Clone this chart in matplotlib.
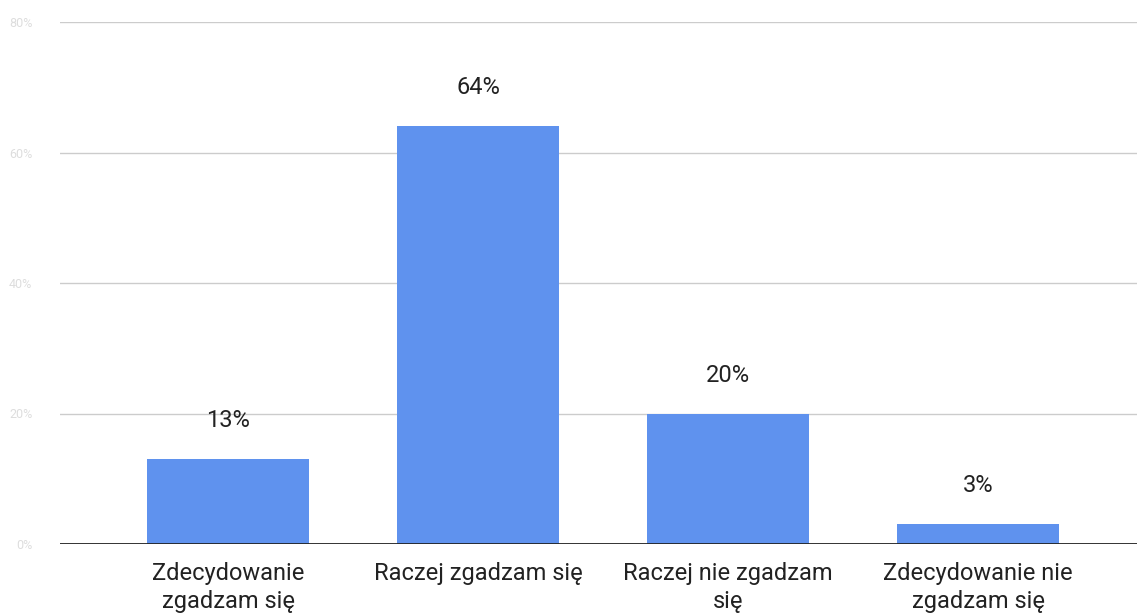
import matplotlib.pyplot as plt

categories = ["Zdecydowanie\nzgadzam się", "Raczej zgadzam się", "Raczej nie zgadzam\nsię", "Zdecydowanie nie\nzgadzam się"]
values = [13, 64, 20, 3]
yticks = [0, 20, 40, 60, 80]
ytickLabels = ["0%", "20%", "40%", "60%", "80%"]

plt.rcParams['font.family'] = ['Roboto', 'DejaVu Sans']

fig = plt.figure(figsize=(11.37, 6.16), dpi=100)
ax = fig.add_axes([60/1137, 1 - 544/616, 1077/1137, (544-22)/616])

x = list(range(len(categories)))
ax.bar(x, values, width=0.648, color="#5f92ee", zorder=2)

for xi, v in zip(x, values):
    ax.text(xi, v + 5.9, "%d%%" % v, ha="center", va="center", fontsize=17, color="#222222")

ax.set_xlim(-0.672, 3.636)
ax.set_ylim(0, 80)
ax.set_yticks(yticks)
ax.set_yticklabels(ytickLabels, fontsize=9, color="#dddddd")
ax.set_xticks(x)
ax.set_xticklabels(categories, fontsize=17, color="#222222", linespacing=1.3)
ax.tick_params(axis="both", length=0)
ax.tick_params(axis="x", pad=13)
ax.tick_params(axis="y", pad=20)
ax.grid(axis="y", color="#cccccc", linewidth=1, zorder=0)
ax.axhline(0, color="#222222", linewidth=2, zorder=3)
for s in ax.spines.values():
    s.set_visible(False)

fig.savefig("out.png", dpi=100)
